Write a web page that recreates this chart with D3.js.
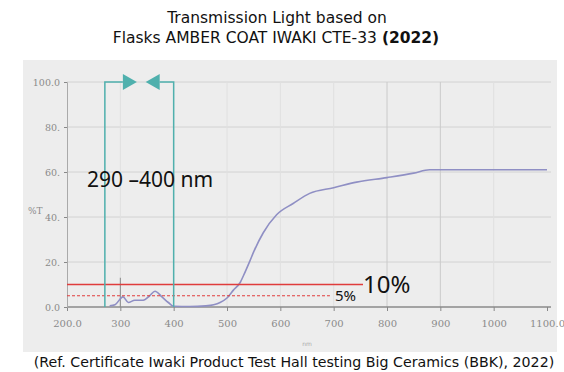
<!DOCTYPE html>
<html>
<head>
<meta charset="utf-8">
<script src="https://cdn.jsdelivr.net/npm/d3@7"></script>
<style>
  body { margin: 0; background: #fff; }
  svg { display: block; }
</style>
</head>
<body>
<div id="chart"></div>
<script>
// wavelength (nm) and transmission (%)
const wavelength = [280, 290, 305, 315, 327, 343, 355, 365, 378, 390, 400, 430, 460, 475, 487, 500, 512, 525, 531, 543, 550, 568, 593, 624, 655, 700, 743, 800, 850, 880, 900, 1000, 1100];
const transmission = [0.5, 1, 4.5, 2, 3, 3, 5, 7, 4.5, 2, 0.3, 0.2, 0.5, 1, 2, 4, 7.5, 11, 14, 20.5, 24.5, 33, 41, 46, 50.5, 53, 55.5, 57.5, 59.5, 61, 61, 61, 61];
const xTicks = [200, 300, 400, 500, 600, 700, 800, 900, 1000, 1100];
const xTickLabels = ['200.0', '300', '400', '500', '600', '700', '800', '900', '1000', '1100.0'];
const yTicks = [0, 20, 40, 60, 80, 100];
const yTickLabels = ['0.0', '20.', '40.', '60.', '80.', '100.0'];
const uvBand = [271, 400];          // teal band marked "290 – 400 nm"
const limitLines = [
  { value: 10, end: 755, label: '10%', dashed: false },
  { value: 5, end: 693, label: '5%', dashed: true }
];

const width = 564, height = 372;
const svg = d3.select('#chart').append('svg')
  .attr('width', width)
  .attr('height', height);

// Title
const title = svg.append('text')
  .attr('x', 277).attr('y', 23)
  .attr('text-anchor', 'middle')
  .attr('font-family', 'DejaVu Sans, Verdana, sans-serif')
  .attr('font-size', 15.5)
  .attr('fill', '#111');
title.append('tspan').attr('x', 277).attr('dy', 0).text('Transmission Light based on');
title.append('tspan').attr('x', 276).attr('dy', 20).text('Flasks AMBER COAT IWAKI CTE-33 ');
title.append('tspan').attr('font-weight', 'bold').text('(2022)');

// Scanned paper background
svg.append('rect')
  .attr('x', 23).attr('y', 60)
  .attr('width', 534).attr('height', 292)
  .attr('fill', '#ededed');

const x = d3.scaleLinear().domain([200, 1100]).range([67, 547]);
const y = d3.scaleLinear().domain([0, 100]).range([307, 82]);

// Grid
svg.append('g')
  .selectAll('line')
  .data(yTicks.filter(d => d > 0))
  .join('line')
  .attr('x1', x(200)).attr('x2', 551)
  .attr('y1', d => y(d)).attr('y2', d => y(d))
  .attr('stroke', '#d2d2d2').attr('stroke-width', 1);

svg.append('g')
  .selectAll('line')
  .data(xTicks.filter(d => d > 200 && d < 1100))
  .join('line')
  .attr('x1', d => x(d)).attr('x2', d => x(d))
  .attr('y1', y(100)).attr('y2', y(0))
  .attr('stroke', d => (d === 800 || d === 900) ? '#cacaca' : '#e0e0e0')
  .attr('stroke-width', 1);

// Axes
const xAxis = svg.append('g')
  .attr('transform', `translate(0, ${y(0)})`)
  .call(d3.axisBottom(x).tickValues(xTicks)
    .tickFormat((d, i) => xTickLabels[i]).tickSize(4).tickPadding(9));
xAxis.select('.domain').attr('stroke', '#8a8a8a').attr('stroke-width', 1.5)
  .attr('d', `M${x(200)},0H551`);
xAxis.selectAll('.tick line').attr('stroke', '#888');
xAxis.selectAll('text')
  .attr('font-family', 'DejaVu Serif, serif')
  .attr('font-size', 10)
  .attr('fill', '#8a8a8a');

const yAxis = svg.append('g')
  .attr('transform', `translate(${x(200)}, 0)`)
  .call(d3.axisLeft(y).tickValues(yTicks)
    .tickFormat((d, i) => yTickLabels[i]).tickSize(3).tickPadding(4));
yAxis.select('.domain').attr('stroke', '#aaaaaa').attr('stroke-width', 1);
yAxis.selectAll('.tick line').attr('stroke', '#888');
yAxis.selectAll('text')
  .attr('font-family', 'DejaVu Serif, serif')
  .attr('font-size', 9.5)
  .attr('fill', '#8a8a8a');

svg.append('text')
  .attr('x', 28).attr('y', 214)
  .attr('font-family', 'DejaVu Serif, serif')
  .attr('font-size', 9).attr('fill', '#8a8a8a')
  .text('%T');

svg.append('text')
  .attr('x', x(650)).attr('y', 346)
  .attr('text-anchor', 'middle')
  .attr('font-family', 'DejaVu Sans, sans-serif')
  .attr('font-size', 6).attr('fill', '#aaa')
  .text('nm');

// small marker at 300 nm
svg.append('line')
  .attr('x1', x(300)).attr('x2', x(300))
  .attr('y1', y(13)).attr('y2', y(0))
  .attr('stroke', '#888').attr('stroke-width', 1);

// Transmission curve
const pts = wavelength.map((w, i) => [w, transmission[i]]);
svg.append('path')
  .datum(pts)
  .attr('fill', 'none')
  .attr('stroke', '#8f8fc4')
  .attr('stroke-width', 1.6)
  .attr('stroke-linejoin', 'round')
  .attr('d', d3.line()
    .curve(d3.curveMonotoneX)
    .x(d => x(d[0]))
    .y(d => y(d[1])));

// Limit lines
limitLines.forEach(l => {
  svg.append('line')
    .attr('x1', x(200)).attr('x2', x(l.end))
    .attr('y1', y(l.value)).attr('y2', y(l.value))
    .attr('stroke', '#e03c3c')
    .attr('stroke-width', l.dashed ? 1 : 1.3)
    .attr('stroke-dasharray', l.dashed ? '3,2' : null);
});
svg.append('text')
  .attr('x', x(limitLines[0].end)).attr('y', y(limitLines[0].value) + 8)
  .attr('font-family', 'Noto Sans, sans-serif')
  .attr('font-size', 24).attr('fill', '#111')
  .text(limitLines[0].label);
svg.append('text')
  .attr('x', x(limitLines[1].end) + 5).attr('y', y(limitLines[1].value) + 5)
  .attr('font-family', 'Noto Sans, sans-serif')
  .attr('font-size', 15).attr('fill', '#111')
  .text(limitLines[1].label);

// UV band annotation
const teal = '#4fb0ad';
const bx0 = x(uvBand[0]), bx1 = x(uvBand[1]), bandTop = y(100);
svg.append('path')
  .attr('fill', 'none').attr('stroke', teal).attr('stroke-width', 1.5)
  .attr('d', `M${bx0},${y(0)}V${bandTop}H${bx0 + 18}`);
svg.append('path')
  .attr('fill', 'none').attr('stroke', teal).attr('stroke-width', 1.5)
  .attr('d', `M${bx1},${y(0)}V${bandTop}H${bx1 - 14}`);
svg.append('path')
  .attr('fill', teal)
  .attr('d', `M${bx0 + 18},${bandTop - 8}L${bx0 + 32},${bandTop}L${bx0 + 18},${bandTop + 8}Z`);
svg.append('path')
  .attr('fill', teal)
  .attr('d', `M${bx1 - 14},${bandTop - 8}L${bx1 - 28},${bandTop}L${bx1 - 14},${bandTop + 8}Z`);

svg.append('text')
  .attr('x', 87).attr('y', 187)
  .attr('font-family', 'Noto Sans, sans-serif')
  .attr('font-size', 21).attr('fill', '#111')
  .text('290 \u2013400 nm');

// Caption
svg.append('text')
  .attr('x', 294).attr('y', 367)
  .attr('text-anchor', 'middle')
  .attr('font-family', 'DejaVu Sans, Verdana, sans-serif')
  .attr('font-size', 14.2).attr('fill', '#111')
  .text('(Ref. Certificate Iwaki Product Test Hall testing Big Ceramics (BBK), 2022)');
</script>
</body>
</html>
